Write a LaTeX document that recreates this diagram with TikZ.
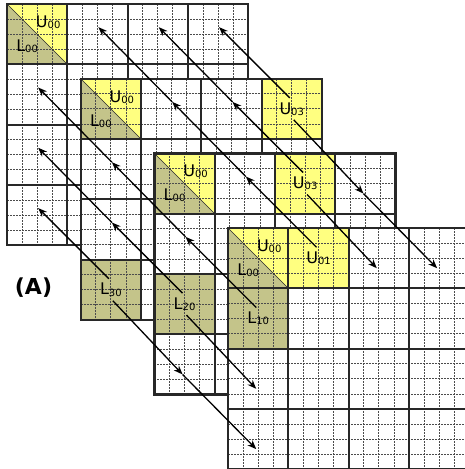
\documentclass[tikz,border=0pt]{standalone}
\usepackage{fontspec}
\setmainfont{DejaVu Sans}
\usetikzlibrary{calc,arrows.meta}
\definecolor{uyel}{RGB}{255,255,128}
\definecolor{lolive}{RGB}{196,196,138}
\definecolor{gridc}{RGB}{40,40,40}
\newcommand\lsub[1]{\raisebox{-1.2pt}{\fontsize{10}{10}\selectfont #1}}
\newcommand\gwhite{\fill[white] (0,0) rectangle (241.2,241.2);}
\newcommand\gsplit{\fill[uyel] (0,0) -- (60.3,0) -- (60.3,60.3) -- cycle;
  \fill[lolive] (0,0) -- (0,60.3) -- (60.3,60.3) -- cycle;}
\newcommand\gU[1]{\fill[uyel] (#1*60.3,0) rectangle ++(60.3,60.3);}
\newcommand\gL[1]{\fill[lolive] (0,#1*60.3) rectangle ++(60.3,60.3);}
\newcommand\glines{%
  \foreach \i in {1,...,15}{\draw[subl] (\i*15.075,0) -- (\i*15.075,241.2);
    \draw[subl] (0,\i*15.075) -- (241.2,\i*15.075);}
  \foreach \i in {1,2,3}{\draw[blk] (\i*60.3,0) -- (\i*60.3,241.2);
    \draw[blk] (0,\i*60.3) -- (241.2,\i*60.3);}
  \draw[gridc, line width=0.6pt] (0,0) -- (60.3,60.3);
  \draw[outer] (0,0) rectangle (241.2,241.2);}
\newcommand\gsplitlabels[1]{%
  \node[lab] (#1u) at (41.15,18.15) {U\lsub{00}};
  \node[lab] (#1l) at (20.15,42.15) {L\lsub{00}};}
\newcommand\startUL[1]{\coordinate (#1uls) at ($(#1)+(-2,-11)$);}
\newcommand\startDR[1]{\coordinate (#1drs) at ($(#1)+(2,11)$);}
\newcommand\tipUL[2]{\coordinate (#1ul#2) at ($(#1)+(1-#2*73.7,-7-#2*74.7)$);}
\newcommand\tipDR[2]{\coordinate (#1dr#2) at ($(#1)+(-2+#2*73.7,10+#2*74.7)$);}
\begin{document}
\begin{tikzpicture}[x=1pt,y=-1pt,
  subl/.style={black!70, line width=0.8pt, dash pattern=on 2pt off 1pt},
  blk/.style={gridc, line width=2.1pt},
  outer/.style={gridc, line width=2.3pt},
  lab/.style={inner sep=0pt, font=\fontsize{16}{16}\selectfont},
  arr/.style={line width=1.3pt, -{Stealth[length=9pt,width=7pt]}}]
\useasboundingbox (0,0) rectangle (465,469);
\clip (0,0) rectangle (465,469);
% grid 0
\begin{scope}[shift={(7,4)}]
  \gwhite \gsplit \glines \gsplitlabels{g0}
\end{scope}
% grid 1
\begin{scope}[shift={(80.7,78.7)}]
  \gwhite \gsplit \gU{3} \gL{3} \glines \gsplitlabels{g1}
  \node[lab] (u1) at (211.05,30.15) {U\lsub{03}};
  \node[lab] (l1) at (30.15,211.05) {L\lsub{30}};
\end{scope}
% grid 2
\begin{scope}[shift={(154.4,153.4)}]
  \gwhite \gsplit \gU{2} \gL{2} \glines \gsplitlabels{g2}
  \node[lab] (u2) at (150.75,30.15) {U\lsub{03}};
  \node[lab] (l2) at (30.15,150.75) {L\lsub{20}};
\end{scope}
% grid 3
\begin{scope}[shift={(228.1,228.1)}]
  \gwhite \gsplit \gU{1} \gL{1} \glines \gsplitlabels{g3}
  \node[lab] (u3) at (90.45,30.15) {U\lsub{01}};
  \node[lab] (l3) at (30.15,90.45) {L\lsub{10}};
\end{scope}
\node[font=\bfseries\fontsize{22}{22}\selectfont, inner sep=0pt] (alabel) at (33.5,288) {(A)};
% arrow points
\startUL{u1} \tipUL{u1}{1} \startDR{u1} \tipDR{u1}{1} \tipDR{u1}{2}
\startUL{l1} \tipUL{l1}{1} \startDR{l1} \tipDR{l1}{1} \tipDR{l1}{2}
\startUL{u2} \tipUL{u2}{1} \tipUL{u2}{2} \startDR{u2} \tipDR{u2}{1}
\startUL{l2} \tipUL{l2}{1} \tipUL{l2}{2} \startDR{l2} \tipDR{l2}{1}
\startUL{u3} \tipUL{u3}{1} \tipUL{u3}{2} \tipUL{u3}{3}
\startUL{l3} \tipUL{l3}{1} \tipUL{l3}{2} \tipUL{l3}{3}
% arrows
\draw[arr] (u1uls) -- (u1ul1);
\draw[arr] (u1drs) -- (u1dr1); \draw[arr] (u1dr1) -- (u1dr2);
\draw[arr] (l1uls) -- (l1ul1);
\draw[arr] (l1drs) -- (l1dr1); \draw[arr] (l1dr1) -- (l1dr2);
\draw[arr] (u2uls) -- (u2ul1); \draw[arr] (u2ul1) -- (u2ul2);
\draw[arr] (u2drs) -- (u2dr1);
\draw[arr] (l2uls) -- (l2ul1); \draw[arr] (l2ul1) -- (l2ul2);
\draw[arr] (l2drs) -- (l2dr1);
\draw[arr] (u3uls) -- (u3ul1); \draw[arr] (u3ul1) -- (u3ul2); \draw[arr] (u3ul2) -- (u3ul3);
\draw[arr] (l3uls) -- (l3ul1); \draw[arr] (l3ul1) -- (l3ul2); \draw[arr] (l3ul2) -- (l3ul3);
\end{tikzpicture}
\end{document}
